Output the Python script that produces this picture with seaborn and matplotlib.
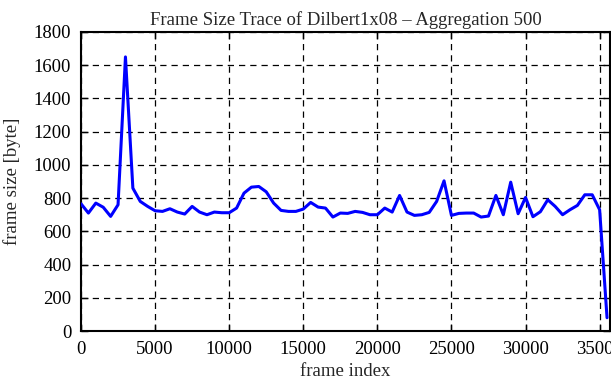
import numpy as np
import pandas as pd
import matplotlib
matplotlib.use("Agg")
import matplotlib.pyplot as plt
import seaborn as sns

# aggregated frame sizes, one value per 500 frames
agg_step = 500
frame_size = [
    766, 710, 770, 745, 690, 760, 1650, 860, 780, 750,
    724, 720, 736, 716, 704, 750, 716, 700, 716, 712,
    712, 740, 830, 866, 870, 838, 770, 726, 720, 720,
    734, 774, 746, 740, 686, 710, 708, 720, 714, 700,
    700, 740, 716, 816, 716, 696, 700, 714, 780, 904,
    696, 708, 710, 710, 686, 692, 816, 700, 896, 706,
    804, 688, 718, 790, 750, 700, 730, 756, 820, 820,
    730, 80,
]
frame_index = [i * agg_step for i in range(len(frame_size))]
n_frames = 35700

x_ticks = [0, 5000, 10000, 15000, 20000, 25000, 30000, 35000]
y_ticks = [0, 200, 400, 600, 800, 1000, 1200, 1400, 1600, 1800]

df = pd.DataFrame({"frame index": frame_index, "frame size": frame_size})

sns.set_style("ticks")
plt.rcParams['font.family'] = ['Liberation Serif', 'DejaVu Serif']

fig = plt.figure(figsize=(6.11, 3.80), dpi=100)
ax = fig.add_axes([81 / 611, 1 - 331 / 380, 529 / 611, 299 / 380])

sns.lineplot(data=df, x="frame index", y="frame size", color="#0000ff",
             linewidth=2.2, ax=ax, zorder=3)

ax.set_xlim(0, n_frames)
ax.set_ylim(0, 1800)
ax.set_xticks(x_ticks)
ax.set_yticks(y_ticks)
ax.grid(True, color="black", linestyle=(0, (5, 4)), linewidth=0.9)
ax.tick_params(direction="in", length=5, width=1, labelsize=13.5,
               top=True, right=True, colors="black", pad=7)
for s in ax.spines.values():
    s.set_visible(True)
    s.set_linewidth(1.5)
    s.set_color("black")

ax.set_xlabel("frame index", fontsize=13.5, labelpad=4)
ax.set_ylabel("frame size [byte]", fontsize=13.5, labelpad=9)
ax.set_title("Frame Size Trace of Dilbert1x08 \u2013 Aggregation 500",
             fontsize=13.5, pad=5)

fig.savefig("out.png", dpi=100)
